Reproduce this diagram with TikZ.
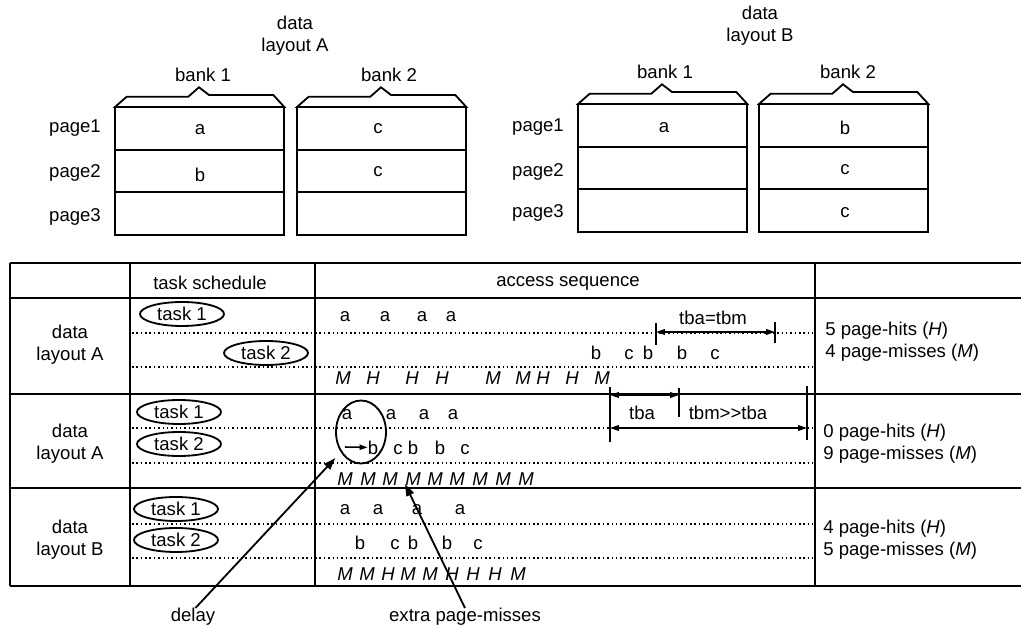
\documentclass[tikz,border=0pt]{standalone}
\usepackage{fontspec}
\setmainfont{Liberation Sans}
\usepackage{tikz}
\usetikzlibrary{positioning,arrows.meta,shapes.geometric}
\tikzset{
  figtext/.style={font=\fontsize{13.2}{15.5}\selectfont, inner sep=0pt, align=center},
  figseq/.style={figtext, anchor=base},
  figtask/.style={ellipse, draw, line width=1.3pt, figtext, minimum width=2.1cm, minimum height=0.6cm},
  figline/.style={line width=1.3pt},
  figdots/.style={dotted, line width=1.1pt},
  figarrow/.style={-{Triangle[length=3mm,width=2mm]}, line width=1.3pt},
  figdim/.style={{Triangle[length=2.2mm,width=1.4mm]}-{Triangle[length=2.2mm,width=1.4mm]}, line width=1.1pt},
  figsmall/.style={-{Triangle[length=2mm,width=1.3mm]}, line width=1.1pt},
}

\begin{document}
\begin{tikzpicture}[x=0.025cm, y=-0.025cm]
  \useasboundingbox (0,0) rectangle (1021,629);

  % banks of the two layouts
  \foreach \bx/\by in {115/107, 297/107, 578/104, 759/104} {
    \draw[figline] (\bx,\by) -- ++(11.7,-10.3) -- ++(61.6,0) -- ++(10.7,-9.4)
      -- ++(10,7.7) -- ++(64.3,0) -- ++(11,12) -- cycle;
    \draw[figline] (\bx,\by) rectangle ++(169,128);
    \draw[figline] (\bx,\by) ++(0,43) -- ++(169,0);
    \draw[figline] (\bx,\by) ++(0,85) -- ++(169,0);
  }
  \node[figtext] (layA) at (295,36) {data\\layout A};
  \node[figtext] (layB) at (760,26) {data\\layout B};
  \foreach \n/\x/\y/\t in {A1/203/75/bank 1, A2/389/75/bank 2, B1/665/72/bank 1, B2/848/72/bank 2}
    \node[figtext] (bank\n) at (\x,\y) {\t};
  \foreach \i/\ya/\yb in {1/128/127, 2/173/172, 3/217/213} {
    \node[figtext] (pageA\i) at (75,\ya) {page\i};
    \node[figtext] (pageB\i) at (538,\yb) {page\i};
  }
  \foreach \n/\x/\y/\t in {Aa/200/130/a, Ab/200/175/b, Ac1/378/129/c, Ac2/378/172/c,
      Ba/664/128/a, Bb/845/128/b, Bc1/845/170/c, Bc2/845/213/c}
    \node[figtext] (cell\n) at (\x,\y) {\t};

  % table
  \foreach \y in {263,298,394,488,586}
    \draw[figline] (10,\y) -- (1021,\y);
  \foreach \x in {10,130,315,815}
    \draw[figline] (\x,263) -- (\x,586);
  \foreach \y in {333,367,428,463,524,558}
    \draw[figdots] (132,\y) -- (813,\y);
  \node[figtext] (hdtask) at (210,283) {task schedule};
  \node[figtext] (hdseq) at (568,283) {access sequence};

  \node[figtext] (row1) at (70,345) {data\\layout A};
  \node[figtext] (row2) at (70,444) {data\\layout A};
  \node[figtext] (row3) at (70,540) {data\\layout B};
  \node[figtext, align=left, anchor=west] (res1) at (825,342) {5 page-hits (\textit{H})\\4 page-misses (\textit{M})};
  \node[figtext, align=left, anchor=west] (res2) at (823,444) {0 page-hits (\textit{H})\\9 page-misses (\textit{M})};
  \node[figtext, align=left, anchor=west] (res3) at (823,540) {4 page-hits (\textit{H})\\5 page-misses (\textit{M})};

  \node[figtask] (taskA1) at (182,314) {task 1};
  \node[figtask] (taskA2) at (266,353) {task 2};
  \node[figtask] (taskB1) at (179,412) {task 1};
  \node[figtask] (taskB2) at (179,444) {task 2};
  \node[figtask] (taskC1) at (176,509) {task 1};
  \node[figtask] (taskC2) at (176,540) {task 2};

  % access sequences
  \foreach \x [count=\i] in {345,385,422,451}
    \node[figseq] (seqAa\i) at (\x,322) {a};
  \foreach \x/\t [count=\i] in {596/b,629/c,648/b,682/b,715/c}
    \node[figseq] (seqAb\i) at (\x,360) {\t};
  \foreach \x/\t [count=\i] in {343/M,373/H,412/H,442/H,493/M,523/M,543/H,572/H,602/M}
    \node[figseq] (seqAh\i) at (\x,385) {\textit{\t}};

  \foreach \x [count=\i] in {347,391,424,453}
    \node[figseq] (seqBa\i) at (\x,420) {a};
  \foreach \x/\t [count=\i] in {373/b,398/c,413/b,440/b,465/c}
    \node[figseq] (seqBb\i) at (\x,454) {\t};
  \foreach \x [count=\i] in {345,368,390,413,435,457,480,503,526}
    \node[figseq] (seqBh\i) at (\x,485) {\textit{M}};

  \foreach \x [count=\i] in {345,378,417,460}
    \node[figseq] (seqCa\i) at (\x,515) {a};
  \foreach \x/\t [count=\i] in {360/b,395/c,413/b,447/b,478/c}
    \node[figseq] (seqCb\i) at (\x,550) {\t};
  \foreach \x/\t [count=\i] in {345/M,367/M,388/H,408/M,430/M,452/H,473/H,495/H,518/M}
    \node[figseq] (seqCh\i) at (\x,580) {\textit{\t}};

  % time marks
  \draw[figline] (656,323) -- (656,345) (775,322) -- (775,343);
  \coordinate (tbaL) at (656,332);
  \coordinate (tbaR) at (775,332);
  \draw[figdim] (tbaL) -- (tbaR);
  \node[figtext] (tbaeq) at (713,318) {tba=tbm};

  \draw[figline] (610,387) -- (610,442) (679,388) -- (679,417) (807,386) -- (807,440);
  \coordinate (tbL) at (610,395);
  \coordinate (tbM) at (679,395);
  \coordinate (tmL) at (610,428);
  \coordinate (tmR) at (807,428);
  \draw[figdim] (tbL) -- (tbM);
  \draw[figdim] (tmL) -- (tmR);
  \node[figtext] (tba) at (642,413) {tba};
  \node[figtext] (tbm) at (728,413) {tbm>{}>tba};

  % delay and extra misses
  \node[draw, ellipse, line width=1.3pt, inner sep=0pt, minimum width=1.25cm, minimum height=1.575cm] (late) at (361,432) {};
  \coordinate (shift) at (345,447);
  \draw[figsmall] (shift) -- (seqBb1.west);
  \node[figtext] (delay) at (193,617) {delay};
  \node[figtext] (extra) at (465,617) {extra page-misses};
  \coordinate (xmiss) at (405,484);
  \draw[figarrow, shorten >=0.2cm] (delay.75) -- (late.225);
  \draw[figarrow] (extra.north) -- (xmiss);
\end{tikzpicture}
\end{document}
